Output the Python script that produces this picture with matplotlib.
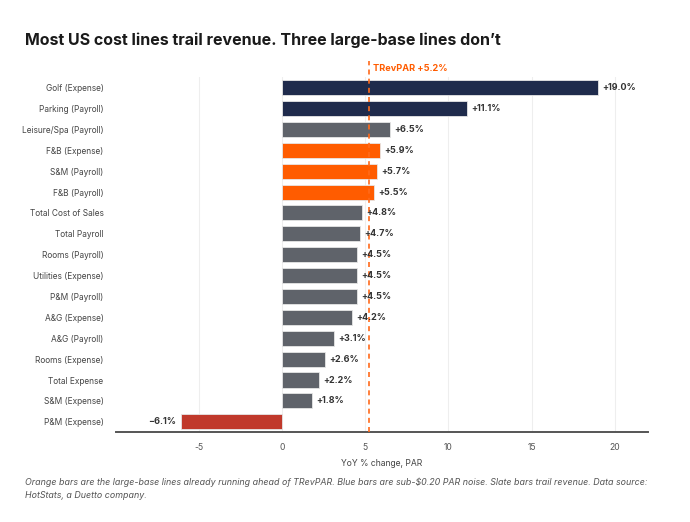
import matplotlib
matplotlib.use("Agg")
import matplotlib.pyplot as plt

plt.rcParams['font.family'] = ['Inter', 'DejaVu Sans']

categories = ["Golf (Expense)", "Parking (Payroll)", "Leisure/Spa (Payroll)", "F&B (Expense)",
              "S&M (Payroll)", "F&B (Payroll)", "Total Cost of Sales", "Total Payroll",
              "Rooms (Payroll)", "Utilities (Expense)", "P&M (Payroll)", "A&G (Expense)",
              "A&G (Payroll)", "Rooms (Expense)", "Total Expense", "S&M (Expense)", "P&M (Expense)"]
values = [19.0, 11.1, 6.5, 5.9, 5.7, 5.5, 4.8, 4.7, 4.5, 4.5, 4.5, 4.2, 3.1, 2.6, 2.2, 1.8, -6.1]
groups = ["blue", "blue", "slate", "orange", "orange", "orange", "slate", "slate", "slate",
          "slate", "slate", "slate", "slate", "slate", "slate", "slate", "red"]
trevpar = 5.2
xticks = [-5, 0, 5, 10, 15, 20]

palette = {"blue": "#1f2b4c", "slate": "#5f636a", "orange": "#ff5c00", "red": "#c0392b"}

fig = plt.figure(figsize=(6.9, 5.22), dpi=100)
ax = fig.add_axes([0.168, 0.172, 0.771, 0.680])

ypos = list(range(len(categories)))
ax.barh(ypos, values, height=0.72, color=[palette[g] for g in groups],
        edgecolor="#e6e6e6", linewidth=0.6, zorder=2)

ax.set_xlim(-10, 22)
ax.set_ylim(len(categories) - 0.5, -0.5)
ax.set_yticks(ypos)
ax.set_yticklabels(categories, fontsize=6.0, color="#444444")
ax.set_xticks(xticks)
ax.set_xticklabels([str(t) for t in xticks], fontsize=6.2, color="#555555")
ax.tick_params(axis="x", length=0, pad=8)
ax.tick_params(axis="y", length=0, pad=9)
ax.grid(axis="x", color="#eeeeee", linewidth=0.8, zorder=0)
ax.set_axisbelow(True)
for s in ["top", "right", "left"]:
    ax.spines[s].set_visible(False)
ax.spines["bottom"].set_color("#555555")
ax.spines["bottom"].set_linewidth(1.4)

ax.axvline(trevpar, ymin=0, ymax=1.045, color="#ff6a1a", linestyle=(0, (3, 2.5)),
           linewidth=1.2, zorder=3, clip_on=False)
ax.annotate(f"TRevPAR +{trevpar:.1f}%", xy=(trevpar, -0.5), xytext=(3, 3),
            textcoords="offset points", fontsize=6.6, fontweight="bold",
            color="#ff5c00", va="bottom", ha="left", annotation_clip=False)

for y, v in zip(ypos, values):
    if v >= 0:
        ax.text(v + 0.25, y, f"+{v:.1f}%", va="center", ha="left", fontsize=6.5,
                fontweight="bold", color="#333333", zorder=4)
    else:
        ax.text(v - 0.25, y, f"\u2212{abs(v):.1f}%", va="center", ha="right", fontsize=6.5,
                fontweight="bold", color="#333333", zorder=4)

ax.set_xlabel("YoY % change, PAR", fontsize=6.2, color="#444444", labelpad=5)

fig.text(0.036, 0.922, "Most US cost lines trail revenue. Three large-base lines don\u2019t",
         fontsize=11.5, fontweight="bold", color="#1a1a1a", ha="left", va="center")
fig.text(0.036, 0.063,
         "Orange bars are the large-base lines already running ahead of TRevPAR. Blue bars are sub-\\$0.20 PAR noise. Slate bars trail revenue. Data source:\nHotStats, a Duetto company.",
         fontsize=6.4, style="italic", color="#555555", ha="left", va="center", linespacing=1.6)

fig.savefig("out.png", dpi=100, facecolor="white")
